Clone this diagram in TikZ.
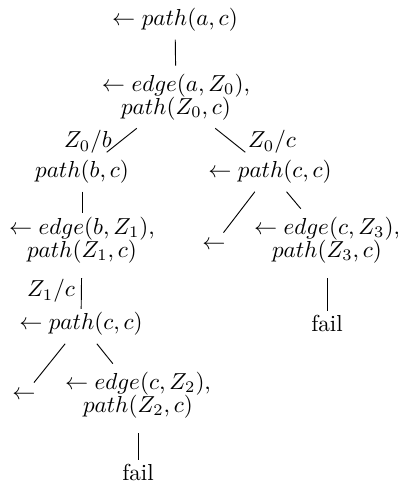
\documentclass[tikz,border=0pt]{standalone}
\usepackage{amsmath,amssymb}

\begin{document}
\begin{tikzpicture}[x=.0152cm, y=-.0152cm,
    goal/.style={align=center},
    downedge/.style={shorten >=-2pt},
    longedge/.style={shorten <=3pt, shorten >=-2pt}]
  \useasboundingbox (0,0) rectangle (398,482);
  % goals
  \node [goal] (n0)  at (175,20)  {$\leftarrow path(a,c)$};
  \node [goal] (n1)  at (176,97)  {$\leftarrow edge(a,Z_0),$\\[-2pt]$path(Z_0,c)$};
  \node [goal] (n2)  at (82,172)  {$path(b,c)$};
  \node [goal] (n3)  at (270,172) {$\leftarrow path(c,c)$};
  \node [goal] (n4)  at (82,240)  {$\leftarrow edge(b,Z_1),$\\[-2pt]$path(Z_1,c)$};
  \node [goal] (e1)  at (214,245) {$\leftarrow$};
  \node [goal] (n5)  at (327,240) {$\leftarrow edge(c,Z_3),$\\[-2pt]$path(Z_3,c)$};
  \node [goal] (n6)  at (81,324)  {$\leftarrow path(c,c)$};
  \node [goal] (f1)  at (327,323) {fail};
  \node [goal] (e2)  at (24,395)  {$\leftarrow$};
  \node [goal] (n7)  at (138,395) {$\leftarrow edge(c,Z_2),$\\[-2pt]$path(Z_2,c)$};
  \node [goal] (f2)  at (138,472) {fail};
  % substitutions
  \node (s0) at (88,142)  {$Z_0/b$};
  \node (s1) at (272,142) {$Z_0/c$};
  \node (s2) at (51,291)  {$Z_1/c$};
  % branches
  \draw [thin]    (n0) -- (n1);
  \draw [thin]    (n1) -- (n2);
  \draw [thin]    (n1) -- (n3);
  \draw [thin, downedge]    (n2) -- (n4);
  \draw [thin]    (n3) -- (e1);
  \draw [thin]    (n3) -- (n5);
  \draw [thin, longedge]    (n4) -- (n6);
  \draw [thin, longedge]    (n5) -- (f1);
  \draw [thin]    (n6) -- (e2);
  \draw [thin]    (n6) -- (n7);
  \draw [thin, longedge]    (n7) -- (f2);
\end{tikzpicture}
\end{document}
